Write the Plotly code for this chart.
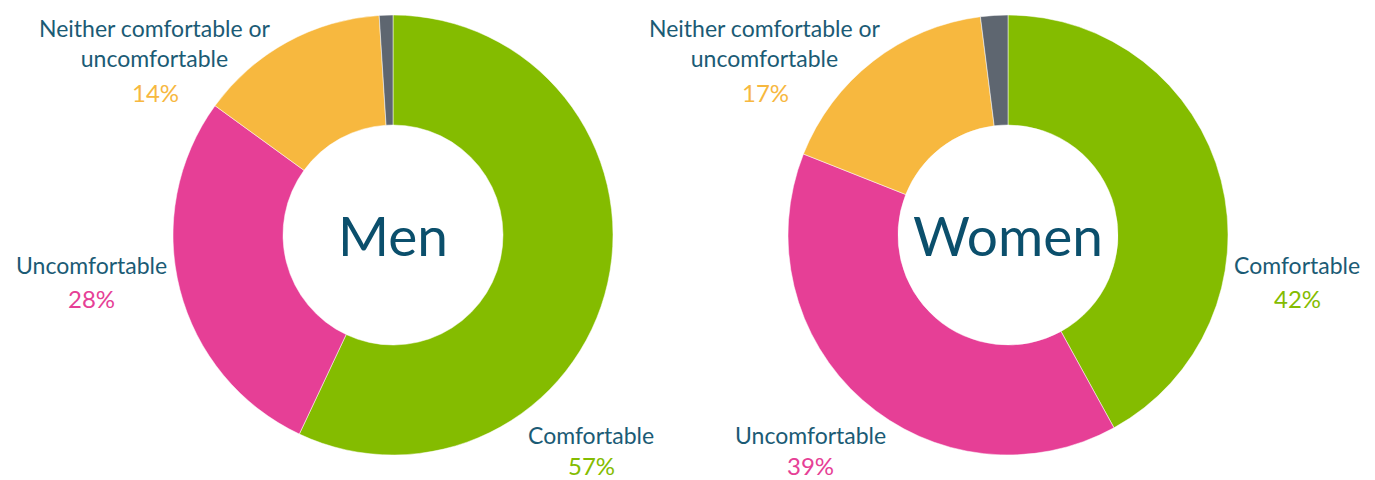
import plotly.graph_objects as go

categories = ["Comfortable", "Uncomfortable", "Neither comfortable or uncomfortable", "Don't know"]
men_values = [57, 28, 14, 1]
women_values = [42, 39, 17, 2]
groups = ["Men", "Women"]
label_text = ["Comfortable", "Uncomfortable", "Neither comfortable or<br>uncomfortable", None]

colors = ["#84BC00", "#E63F96", "#F7B83F", "#5E6670"]
TEXT = "#1B5B75"
CENTER = "#0B4F6C"
FONT = "Lato"
W, H = 1375, 480
OFF = 8  # page body margin offset compensation

# pie geometry (pixels in the screenshot)
pie_layout = {
    "Men": {"cx": 393, "cy": 235, "r": 220},
    "Women": {"cx": 1008, "cy": 235, "r": 220},
}
# label anchor positions (pixels, center of category text / percent text)
label_pos = {
    "Men": [(591, 435, 465), (91, 265, 298), (155, 43, 92), None],
    "Women": [(1297, 265, 298), (810, 435, 465), (765, 43, 92), None],
}

def px(x):
    return (x - OFF) / W

def py(y):
    return 1 - (y - OFF) / H

fig = go.Figure()
annotations = []
for g, vals in zip(groups, [men_values, women_values]):
    p = pie_layout[g]
    fig.add_trace(go.Pie(
        labels=categories, values=vals, sort=False, direction="clockwise", rotation=0,
        hole=0.5, marker=dict(colors=colors, line=dict(color="white", width=0.5)),
        textinfo="none", hoverinfo="label+value", showlegend=False,
        domain=dict(x=[px(p["cx"] - p["r"]), px(p["cx"] + p["r"])],
                    y=[py(p["cy"] + p["r"]), py(p["cy"] - p["r"])]),
    ))
    annotations.append(dict(text=g, x=px(p["cx"]), y=py(p["cy"]), xref="paper", yref="paper",
                            showarrow=False, font=dict(family=FONT, size=55, color=CENTER),
                            xanchor="center", yanchor="middle"))
    for i, v in enumerate(vals):
        pos = label_pos[g][i]
        if pos is None or label_text[i] is None:
            continue
        x, yl, yp = pos
        annotations.append(dict(text=label_text[i], x=px(x), y=py(yl), xref="paper", yref="paper",
                                showarrow=False, font=dict(family=FONT, size=23, color=TEXT),
                                xanchor="center", yanchor="middle", borderpad=0))
        annotations.append(dict(text=f"{v}%", x=px(x), y=py(yp), xref="paper", yref="paper",
                                showarrow=False, font=dict(family=FONT, size=24, color=colors[i]),
                                xanchor="center", yanchor="middle", borderpad=0))

fig.update_layout(width=W, height=H, margin=dict(l=0, r=0, t=0, b=0),
                  paper_bgcolor="white", plot_bgcolor="white", annotations=annotations,
                  font=dict(family=FONT))
fig.write_html("out.html")
